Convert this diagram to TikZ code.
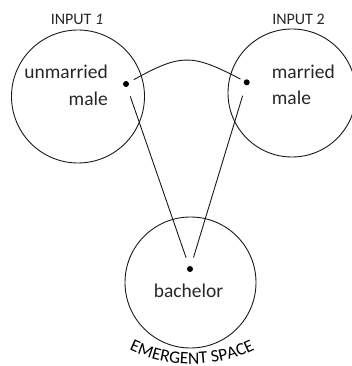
\documentclass[tikz,border=0pt]{standalone}
\usepackage{fontspec}
\setmainfont{Carlito}
\usetikzlibrary{decorations.text}
\begin{document}
\begin{tikzpicture}[x=1pt,y=1pt,
  space/.style={draw=black!90, line width=0.9pt},
  dotnode/.style={circle, fill=black, inner sep=0pt, minimum size=6pt},
  link/.style={draw=black!90, line width=0.9pt},
  word/.style={inner sep=0pt, text=black!85, font=\fontsize{19.5}{24}\selectfont},
  title/.style={inner sep=0pt, text=black!85, font=\fontsize{16}{18}\selectfont}]
\useasboundingbox (0,0) rectangle (352,366);
% circles
\draw[space] (78,269.5) circle[radius=66.5];
\draw[space] (292,273) circle[radius=64];
\draw[space] (190.5,83.5) circle[radius=65.5];
% titles
\node[title, anchor=base] (in1) at (77,341) {INPUT \textit{1}};
\node[title, anchor=base] (in2) at (298.5,341) {INPUT 2};
% words
\node[word, anchor=base east] (um) at (108,287) {unmarried};
\node[word, anchor=base east] (m1) at (108,260) {male};
\node[word, anchor=base west] (mr) at (271.7,287) {married};
\node[word, anchor=base west] (m2) at (271.7,261) {male};
\node[word, anchor=base] (ba) at (188.5,68) {bachelor};
% dots
\node[dotnode] (d1) at (126,282) {};
\node[dotnode] (d2) at (246.7,283.7) {};
\node[dotnode] (d3) at (190,97) {};
% connectors
\draw[link, shorten <=9pt, shorten >=7pt] (d1.center) .. controls (181,312.4) and (191.7,312.4) .. (d2.center);
\draw[link, shorten <=13pt, shorten >=12pt] (d1.center) -- (d3.center);
\draw[link, shorten <=14pt, shorten >=12pt] (d2.center) -- (d3.center);
% curved label
\begingroup
\fontsize{17.5}{18}\selectfont\color{black!85}
\path[decorate, decoration={text along path, text align=center, text={EMERGENT SPACE}}]
  (192,145) ++(230:143) arc[start angle=230, end angle=310, radius=143];
\endgroup
\end{tikzpicture}
\end{document}
